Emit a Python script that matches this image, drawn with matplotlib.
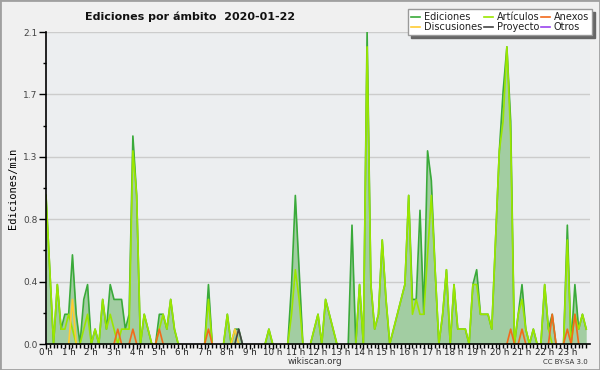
import numpy as np
import matplotlib.pyplot as plt
from matplotlib.patches import Rectangle

# edits per minute, 10-minute bins (6 per hour)
ediciones = [
    1.0, 0.5, 0.0, 0.4, 0.1, 0.2,
    0.2, 0.6, 0.2, 0.0, 0.3, 0.4,
    0.0, 0.1, 0.0, 0.3, 0.1, 0.4,
    0.3, 0.3, 0.3, 0.1, 0.2, 1.4,
    1.0, 0.0, 0.2, 0.1, 0.0, 0.0,
    0.2, 0.2, 0.1, 0.3, 0.1, 0.0,
    0.0, 0.0, 0.0, 0.0, 0.0, 0.0,
    0.0, 0.4, 0.0, 0.0, 0.0, 0.0,
    0.2, 0.0, 0.1, 0.1, 0.0, 0.0,
    0.0, 0.0, 0.0, 0.0, 0.0, 0.1,
    0.0, 0.0, 0.0, 0.0, 0.0, 0.4,
    1.0, 0.5, 0.0, 0.0, 0.0, 0.1,
    0.2, 0.0, 0.3, 0.2, 0.1, 0.0,
    0.0, 0.0, 0.0, 0.8, 0.0, 0.4,
    0.0, 2.1, 0.4, 0.1, 0.2, 0.7,
    0.3, 0.0, 0.1, 0.2, 0.3, 0.4,
    1.0, 0.3, 0.3, 0.9, 0.2, 1.3,
    1.1, 0.5, 0.0, 0.2, 0.5, 0.0,
    0.4, 0.1, 0.1, 0.1, 0.0, 0.4,
    0.5, 0.2, 0.2, 0.2, 0.1, 0.7,
    1.3, 1.7, 2.0, 1.5, 0.0, 0.2,
    0.4, 0.1, 0.0, 0.1, 0.0, 0.0,
    0.4, 0.1, 0.2, 0.0, 0.0, 0.0,
    0.8, 0.0, 0.4, 0.1, 0.2, 0.1,
]
articulos = [
    1.0, 0.5, 0.0, 0.4, 0.1, 0.1,
    0.2, 0.1, 0.0, 0.0, 0.1, 0.2,
    0.0, 0.1, 0.0, 0.3, 0.1, 0.2,
    0.1, 0.0, 0.1, 0.1, 0.1, 1.3,
    1.0, 0.0, 0.2, 0.1, 0.0, 0.0,
    0.1, 0.2, 0.1, 0.3, 0.1, 0.0,
    0.0, 0.0, 0.0, 0.0, 0.0, 0.0,
    0.0, 0.3, 0.0, 0.0, 0.0, 0.0,
    0.2, 0.0, 0.0, 0.0, 0.0, 0.0,
    0.0, 0.0, 0.0, 0.0, 0.0, 0.1,
    0.0, 0.0, 0.0, 0.0, 0.0, 0.2,
    0.5, 0.3, 0.0, 0.0, 0.0, 0.1,
    0.2, 0.0, 0.3, 0.2, 0.1, 0.0,
    0.0, 0.0, 0.0, 0.0, 0.0, 0.4,
    0.0, 2.0, 0.4, 0.1, 0.2, 0.7,
    0.3, 0.0, 0.1, 0.2, 0.3, 0.4,
    1.0, 0.2, 0.3, 0.2, 0.2, 0.6,
    1.0, 0.5, 0.0, 0.2, 0.5, 0.0,
    0.4, 0.1, 0.1, 0.1, 0.0, 0.4,
    0.4, 0.2, 0.2, 0.2, 0.1, 0.7,
    1.3, 1.5, 2.0, 1.4, 0.0, 0.2,
    0.3, 0.1, 0.0, 0.1, 0.0, 0.0,
    0.4, 0.1, 0.0, 0.0, 0.0, 0.0,
    0.7, 0.0, 0.2, 0.1, 0.2, 0.1,
]
# sparse series: {bin index: value}
discusiones = {7: 0.3, 50: 0.1}
anexos = {19: 0.1, 23: 0.1, 30: 0.1, 43: 0.1, 123: 0.1, 126: 0.1,
          134: 0.2, 138: 0.1, 140: 0.2}
proyecto = {51: 0.1}
otros = {}

hour_labels = [f"{h} h" for h in range(24)]
yticks = [0, 0.42, 0.84, 1.26, 1.68, 2.1]
ytick_labels = ["0.0", "0.4", "0.8", "1.3", "1.7", "2.1"]

n = len(ediciones)
x = np.arange(n) / 6.0


def dense(d):
    v = np.zeros(n)
    for k, val in d.items():
        v[k] = val
    return v


def visible(v):
    # hide stretches of zeros, keep the ramps into peaks
    v = np.asarray(v, dtype=float)
    nz = v > 0
    keep = nz.copy()
    keep[1:] |= nz[:-1]
    keep[:-1] |= nz[1:]
    return np.ma.masked_where(~keep, v)


fig = plt.figure(figsize=(6, 3.7), dpi=100, facecolor="#f0f0f0")
ax = fig.add_axes([46 / 600, 26 / 370, 544 / 600, 312 / 370])
ax.set_facecolor("#eceef0")

ax.fill_between(x, ediciones, color="#a2cda2", lw=0)
ax.plot(x, visible(ediciones), color="#3aaa3a", lw=1.2, label="Ediciones")
ax.plot(x, visible(articulos), color="#9be600", lw=1.2, label="Artículos")
ax.plot(x, visible(dense(anexos)), color="#f26a1b", lw=1.2, label="Anexos")
ax.plot(x, visible(dense(discusiones)), color="#ffcc33", lw=1.2, label="Discusiones")
ax.plot(x, visible(dense(proyecto)), color="#444444", lw=1.2, label="Proyecto")
ax.plot(x, visible(dense(otros)), color="#9944ee", lw=1.2, label="Otros")

ax.set_xlim(0, 24)
ax.set_ylim(0, 2.1)
ax.set_xticks(range(24))
ax.set_xticklabels(hour_labels, fontsize=6.3, color="#222222")
ax.set_xticks(np.arange(0, 24, 1 / 6), minor=True)
ax.set_yticks(yticks)
ax.set_yticklabels(ytick_labels, fontsize=6.5, color="#444444")
ax.set_yticks([0.21, 0.63, 1.05, 1.47, 1.89], minor=True)
ax.tick_params(axis="x", which="major", length=3.5, width=1, pad=-0.5)
ax.tick_params(axis="x", which="minor", length=3, width=1)
ax.tick_params(axis="y", which="major", length=5, width=1, pad=1)
ax.tick_params(axis="y", which="minor", length=2.5, width=1)
ax.grid(axis="y", which="major", color="#cccccc", lw=1)
ax.set_axisbelow(True)
for s in ["top", "right"]:
    ax.spines[s].set_visible(False)
for s in ["left", "bottom"]:
    ax.spines[s].set_linewidth(1.2)

ax.set_ylabel("Ediciones/min", fontsize=7.5, family="DejaVu Sans Mono", labelpad=4)

fig.text(85 / 600, 1 - 17 / 370, "Ediciones por ámbito  2020-01-22",
         fontsize=8, fontweight="bold", va="center", ha="left", color="#111111")
fig.text(315 / 600, 1 - 362 / 370, "wikiscan.org", fontsize=6.3,
         ha="center", va="center", color="#333333")
fig.text(565 / 600, 1 - 362 / 370, "CC BY-SA 3.0", fontsize=5,
         ha="center", va="center", color="#333333")

h, l = ax.get_legend_handles_labels()
order = ["Ediciones", "Discusiones", "Artículos", "Proyecto", "Anexos", "Otros"]
hh = [h[l.index(o)] for o in order]
leg = fig.legend(hh, order, ncol=3, loc="upper right",
                 bbox_to_anchor=(592 / 600, 1 - 9 / 370), fontsize=7,
                 frameon=True, fancybox=False, framealpha=1,
                 edgecolor="#999999", shadow={"color": "#666666", "alpha": 1},
                 handlelength=0.9, handletextpad=0.4, columnspacing=0.2,
                 labelspacing=0.05, borderpad=0.3, borderaxespad=0)
for t in leg.get_texts():
    t.set_color("#222222")

fig.patches.append(Rectangle((0, 0), 1, 1, transform=fig.transFigure,
                             fill=False, edgecolor="#a0a0a0", lw=2))

fig.savefig("out.png", dpi=100, facecolor=fig.get_facecolor())
